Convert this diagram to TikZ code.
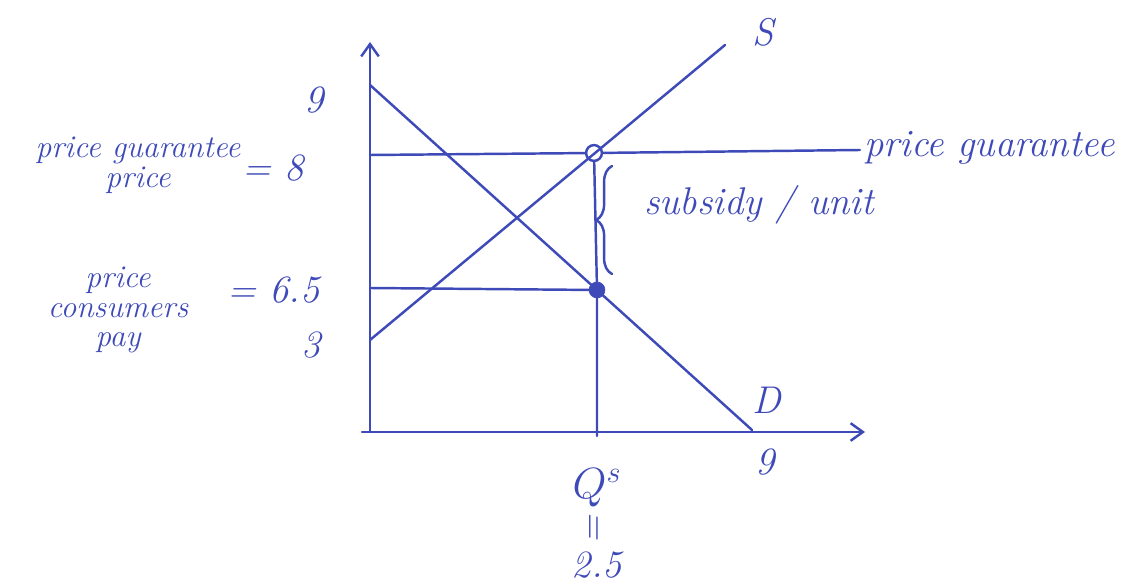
\documentclass[tikz,border=0pt]{standalone}
\usepackage{tikz}
\usetikzlibrary{calc, positioning, arrows.meta, decorations.pathreplacing}
\usepackage{xcolor}
\definecolor{penblue}{RGB}{62,74,184}
\tikzstyle{pen} = [
draw=penblue,
line width=1.4pt,
line cap=round
]
\tikzstyle{axis} = [pen, -{Straight Barb[length=7pt,width=10pt]}]
\tikzstyle{hand} = [
text=penblue,
font=\itshape\fontsize{22}{24}\selectfont,
inner sep=1pt
]
\tikzstyle{smallhand} = [
hand,
font=\itshape\fontsize{18}{17}\selectfont,
align=center
]

\begin{document}
\begin{tikzpicture}[x=0.02cm,y=-0.02cm]
        \useasboundingbox (0,0) rectangle (1146,587);
        
        % axes
        \coordinate (orig) at (362,432);
        \coordinate (ytop) at (370,42);
        \coordinate (xend) at (865,432);
        \draw [axis] (370,432) -- (ytop);
        \draw [axis] (orig) -- (xend);
        
        % demand and supply
        \coordinate (dtop) at (370,85);
        \coordinate (dbot) at (752,430);
        \coordinate (sbot) at (370,340);
        \coordinate (stop) at (725,45);
        \draw [pen] (dtop) -- (dbot);
        \draw [pen] (sbot) -- (stop);
        
        % guarantee and consumer price
        \coordinate (gleft) at (370,155);
        \coordinate (gright) at (860,150);
        \coordinate (cleft) at (370,288);
        \node (guar) [circle, draw=penblue, line width=1.4pt, inner sep=0pt, minimum size=9pt] at (594,153) {};
        \node (cons) [circle, draw=penblue, fill=penblue, inner sep=0pt, minimum size=9pt] at (597,290) {};
        \coordinate (qbot) at (597,436);
        \draw [pen] (gleft) -- (guar) -- (gright);
        \draw [pen] (cleft) -- (cons);
        \draw [pen] (guar) -- (cons) -- (qbot);
        
        \draw [pen, decorate, decoration={brace, mirror, amplitude=9pt}]
        (612,166) -- (612,274);
        
        % labels
        \node (lblS) [hand] at (763,32) {S};
        \node (lblD) [hand] at (767,400) {D};
        \node (lblG) [hand, anchor=west] at (862,148) {price guarantee};
        \node (lblsub) [hand, anchor=west] at (642,205) {subsidy / unit};
        \node (pmax) [hand] at (314,100) {9};
        \node (pmin) [hand] at (311,345) {3};
        \node (qmax) [hand] at (765,462) {9};
        \node (gtext) [smallhand] at (138,165) {price guarantee\\price};
        \node (geq) [hand, anchor=west] at (240,168) {= 8};
        \node (ctext) [smallhand] at (118,310) {price\\consumers\\pay};
        \node (ceq) [hand, anchor=west] at (225,290) {= 6.5};
        \node (qs) [hand, font=\itshape\fontsize{26}{28}\selectfont] at (597,488) {$Q^s$};
        \node (qeq) [hand] at (597,530) {\rotatebox{90}{=}};
        \node (qval) [hand] at (597,565) {2.5};
        
\end{tikzpicture}
\end{document}
